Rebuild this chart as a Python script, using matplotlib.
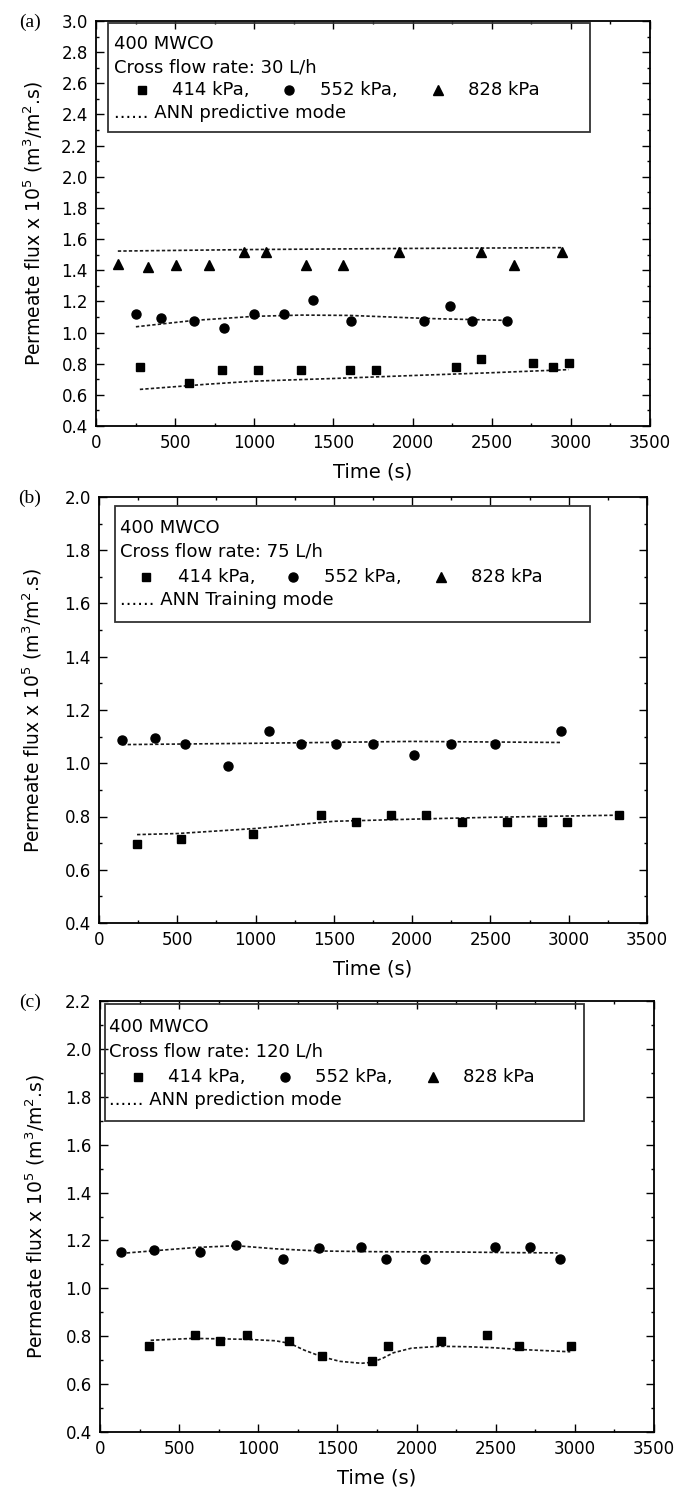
import matplotlib
matplotlib.use("Agg")
import matplotlib.pyplot as plt
from matplotlib.patches import Rectangle
from matplotlib.lines import Line2D
from matplotlib.ticker import MultipleLocator, FormatStrFormatter

plt.rcParams['font.family'] = ['DejaVu Sans']
plt.rcParams['mathtext.fontset'] = 'dejavusans'

# ---------------- data ----------------
# Panel (a) 30 L/h
t414_a = [277, 587, 797, 1024, 1295, 1602, 1771, 2274, 2432, 2759, 2889, 2986]
f414_a = [0.78, 0.673, 0.757, 0.757, 0.757, 0.757, 0.757, 0.78, 0.831, 0.806, 0.78, 0.806]
t552_a = [252, 412, 617, 808, 999, 1187, 1372, 1608, 2075, 2239, 2377, 2598]
f552_a = [1.12, 1.094, 1.077, 1.032, 1.117, 1.12, 1.211, 1.075, 1.075, 1.173, 1.075, 1.075]
t828_a = [138, 329, 504, 711, 938, 1076, 1328, 1558, 1912, 2432, 2640, 2947]
f828_a = [1.44, 1.42, 1.435, 1.435, 1.515, 1.515, 1.435, 1.435, 1.515, 1.515, 1.435, 1.515]
ann414_a_t = [277, 700, 1000, 1500, 2000, 2500, 2986]
ann414_a_f = [0.635, 0.668, 0.688, 0.705, 0.724, 0.742, 0.762]
ann552_a_t = [252, 620, 1000, 1300, 1600, 2100, 2598]
ann552_a_f = [1.037, 1.078, 1.104, 1.112, 1.11, 1.09, 1.078]
ann828_a_t = [138, 1000, 2000, 2947]
ann828_a_f = [1.523, 1.533, 1.540, 1.545]

# Panel (b) 75 L/h
t414_b = [243, 525, 983, 1416, 1642, 1863, 2089, 2316, 2606, 2830, 2992, 3318]
f414_b = [0.695, 0.715, 0.736, 0.805, 0.78, 0.805, 0.805, 0.78, 0.78, 0.78, 0.78, 0.805]
t552_b = [148, 358, 550, 821, 1087, 1293, 1514, 1752, 2011, 2246, 2528, 2950]
f552_b = [1.088, 1.093, 1.073, 0.99, 1.12, 1.073, 1.073, 1.073, 1.03, 1.073, 1.071, 1.12]
ann414_b_t = [243, 500, 1000, 1500, 2000, 2500, 3318]
ann414_b_f = [0.732, 0.736, 0.755, 0.782, 0.79, 0.797, 0.805]
ann552_b_t = [148, 1000, 2000, 2950]
ann552_b_f = [1.07, 1.075, 1.082, 1.078]

# Panel (c) 120 L/h
t414_c = [311, 600, 761, 928, 1194, 1400, 1719, 1822, 2153, 2442, 2647, 2975]
f414_c = [0.759, 0.806, 0.781, 0.806, 0.781, 0.717, 0.698, 0.759, 0.781, 0.806, 0.759, 0.759]
t552_c = [131, 339, 633, 861, 1153, 1381, 1650, 1806, 2056, 2497, 2719, 2903]
f552_c = [1.151, 1.161, 1.153, 1.179, 1.122, 1.169, 1.172, 1.122, 1.122, 1.172, 1.172, 1.122]
ann414_c_t = [320, 591, 929, 1109, 1200, 1290, 1403, 1516, 1651, 1719, 1786, 1854, 1967, 2147, 2327, 2485, 2643, 2971]
ann414_c_f = [0.783, 0.791, 0.787, 0.781, 0.770, 0.742, 0.714, 0.695, 0.687, 0.691, 0.708, 0.731, 0.750, 0.758, 0.756, 0.752, 0.745, 0.735]
ann552_c_t = [135, 343, 613, 862, 1109, 1380, 1741, 2192, 2643, 2891]
ann552_c_f = [1.146, 1.157, 1.171, 1.178, 1.165, 1.156, 1.153, 1.152, 1.149, 1.148]

panel_labels = ['(a)', '(b)', '(c)']
flow_texts = ['Cross flow rate: 30 L/h', 'Cross flow rate: 75 L/h', 'Cross flow rate: 120 L/h']
ann_texts = ['...... ANN predictive mode', '...... ANN Training mode', '...... ANN prediction mode']
ylims = [(0.4, 3.0), (0.4, 2.0), (0.4, 2.2)]
pressure_labels = ['414 kPa,', '552 kPa,', '828 kPa']

# ---------------- layout (pixels) ----------------
W, H = 688, 1487
fig = plt.figure(figsize=(W / 100, H / 100), dpi=100)

ax_px = [(96, 21, 650, 426), (99, 497, 647, 923), (100, 1001, 654, 1432)]
box_px = [(108, 23, 590, 132), (115, 506, 590, 622), (105, 1004, 584, 1121)]
rows_px = [[44, 67, 90, 113], [528, 552, 577, 600], [1027, 1052, 1077, 1100]]
textx_px = [114, 120, 109]
mk_px = [[142, 289, 438], [146, 293, 441], [138, 285, 433]]
mtx_px = [[172, 320, 468], [178, 324, 471], [168, 315, 463]]
ylab_px = [33, 32, 35]

SQ, CI, TR = 6.0, 6.5, 7.5


def fx(x):
    return x / W


def fy(y):
    return 1 - y / H


series = [
    [(t414_a, f414_a, 's', SQ), (t552_a, f552_a, 'o', CI), (t828_a, f828_a, '^', TR)],
    [(t414_b, f414_b, 's', SQ), (t552_b, f552_b, 'o', CI)],
    [(t414_c, f414_c, 's', SQ), (t552_c, f552_c, 'o', CI)],
]
anns = [
    [(ann414_a_t, ann414_a_f), (ann552_a_t, ann552_a_f), (ann828_a_t, ann828_a_f)],
    [(ann414_b_t, ann414_b_f), (ann552_b_t, ann552_b_f)],
    [(ann414_c_t, ann414_c_f), (ann552_c_t, ann552_c_f)],
]

for i in range(3):
    l, t, r, b = ax_px[i]
    ax = fig.add_axes([fx(l), fy(b), (r - l) / W, (b - t) / H])
    for (tt, ff, mk, ms) in series[i]:
        ax.plot(tt, ff, linestyle='none', marker=mk, markersize=ms, color='black', zorder=3)
    for (tt, ff) in anns[i]:
        ax.plot(tt, ff, linestyle=(0, (2.0, 1.3)), lw=1.2, color='#1a1a1a', zorder=2)
    ax.set_xlim(0, 3500)
    ax.set_ylim(*ylims[i])
    ax.xaxis.set_major_locator(MultipleLocator(500))
    ax.xaxis.set_minor_locator(MultipleLocator(250))
    ax.yaxis.set_major_locator(MultipleLocator(0.2))
    ax.yaxis.set_minor_locator(MultipleLocator(0.1))
    ax.yaxis.set_major_formatter(FormatStrFormatter('%.1f'))
    ax.tick_params(which='both', direction='in', top=True, right=True, width=1.0)
    ax.tick_params(which='major', length=5.5, labelsize=12, pad=6)
    ax.tick_params(which='minor', length=2.5)
    for sp in ax.spines.values():
        sp.set_linewidth(1.3)
    ax.set_xlabel('Time (s)', fontsize=14)
    ax.xaxis.set_label_coords(0.5, -46 / (b - t))
    ax.xaxis.label.set_va('center')
    ax.set_ylabel('Permeate flux x 10$^5$ (m$^3$/m$^2$.s)', fontsize=13.5)
    ax.yaxis.set_label_coords((ylab_px[i] - l) / (r - l), 0.5)
    ax.yaxis.label.set_va('center')

    # legend box
    bl, bt, br, bb = box_px[i]
    fig.patches.append(Rectangle((fx(bl), fy(bb)), (br - bl) / W, (bb - bt) / H,
                                 transform=fig.transFigure, fill=False,
                                 edgecolor='#333333', lw=1.3))
    rows = rows_px[i]
    fig.text(fx(textx_px[i]), fy(rows[0]), '400 MWCO', fontsize=13, va='center', ha='left')
    fig.text(fx(textx_px[i]), fy(rows[1]), flow_texts[i], fontsize=13, va='center', ha='left')
    for j, (mk, ms) in enumerate([('s', SQ), ('o', CI), ('^', TR)]):
        fig.lines.append(Line2D([fx(mk_px[i][j])], [fy(rows[2])], transform=fig.transFigure,
                                marker=mk, markersize=ms, color='black', linestyle='none'))
        fig.text(fx(mtx_px[i][j]), fy(rows[2]), pressure_labels[j], fontsize=13,
                 va='center', ha='left')
    fig.text(fx(textx_px[i]), fy(rows[3]), ann_texts[i], fontsize=13, va='center', ha='left')

    # panel letter
    fig.text(fx(30), fy(t + 1), panel_labels[i], fontsize=14, family='Liberation Serif',
             ha='center', va='center')

fig.savefig('out.png', dpi=100)
